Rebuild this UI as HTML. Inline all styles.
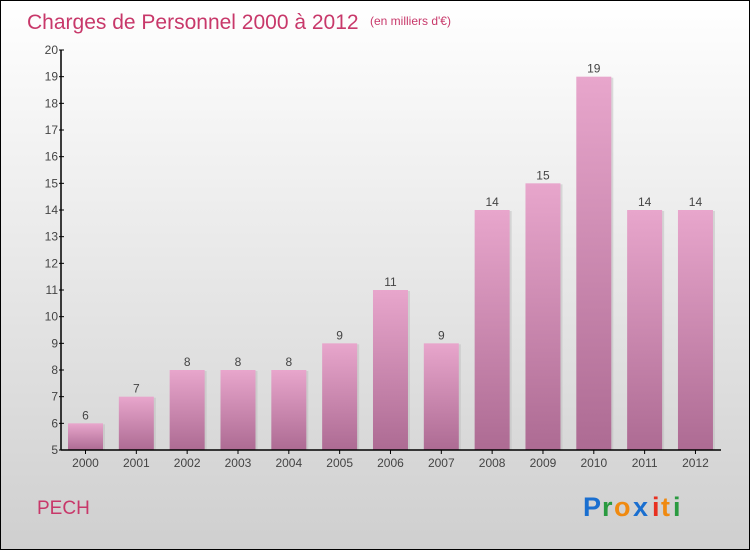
<!DOCTYPE html>
<html><head><meta charset="utf-8"><style>
body{margin:0}
#c{position:relative;width:748px;height:548px;border:1px solid #000;background:linear-gradient(#ffffff,#cfcfcf);font-family:"Liberation Sans",sans-serif;overflow:hidden}
</style></head><body>
<div id="c">
<svg width="748" height="548">
<defs>
<linearGradient id="bg" x1="0" y1="0" x2="0" y2="1"><stop offset="0" stop-color="#e8a6cc"/><stop offset="1" stop-color="#ad6b93"/></linearGradient>
</defs>
<text x="26" y="28" font-size="21" fill="#c8386a">Charges de Personnel 2000 à 2012</text>
<text x="369" y="24" font-size="12" fill="#c8386a">(en milliers d'€)</text>
<text x="36" y="513" font-size="19" fill="#c8386a">PECH</text>
<g font-size="27" font-weight="bold" font-family="'Liberation Sans',sans-serif">
<text x="582" y="515" fill="#1a6fd0">P</text><text x="601" y="515" fill="#2a9a40">r</text><text x="613" y="515" fill="#f08a10">o</text><text x="632" y="515" fill="#1a6fd0">x</text><text x="651" y="515" fill="#e83020">i</text><text x="660" y="515" fill="#f08a10">t</text><text x="672" y="515" fill="#2a9a40">i</text>
</g>
<g id="plot"></g>
</svg>
</div>
<script>
const years=["2000","2001","2002","2003","2004","2005","2006","2007","2008","2009","2010","2011","2012"];
const values=[6,7,8,8,8,9,11,9,14,15,19,14,14];
const yTicks=[5,6,7,8,9,10,11,12,13,14,15,16,17,18,19,20];
const ns="http://www.w3.org/2000/svg";
const g=document.getElementById('plot');
const y0=449,y1=49,vmin=5,vmax=20,x0=60,step=50.83,first=84.5,bw=35;
const Y=v=>y0-(v-vmin)/(vmax-vmin)*(y0-y1);
const X=i=>first+i*step;
function el(t,a){const e=document.createElementNS(ns,t);for(const k in a)e.setAttribute(k,a[k]);g.appendChild(e);return e;}
values.forEach((v,i)=>{
 const s=el('rect',{x:X(i)-bw/2+2,y:Y(v)+1,width:bw,height:y0-Y(v)-1,fill:'#bbb',opacity:0.5});
 
 
 const r=el('rect',{x:X(i)-bw/2,y:Y(v),width:bw,height:y0-Y(v),fill:'url(#bg)'});
 
 
 const t=el('text',{x:X(i),y:Y(v)-4,'font-size':12,'text-anchor':'middle',fill:'#444'});
 t.textContent=v;
 
 
 const l=el('text',{x:X(i),y:y0+17,'font-size':12,'text-anchor':'middle',fill:'#444'});
 l.textContent=years[i];
 
 
 const tk=el('line',{x1:X(i),x2:X(i),y1:y0,y2:y0+4,stroke:'#000'});
 
 
});
yTicks.forEach(v=>{
 const t=el('text',{x:x0-3,y:Y(v)+4,'font-size':12,'text-anchor':'end',fill:'#444'});
 t.textContent=v;
 
 
 const tk=el('line',{x1:x0-2,x2:x0+3,y1:Y(v),y2:Y(v),stroke:'#000'});
 
 
});
const ya=el('line',{x1:x0,x2:x0,y1:y1,y2:y0,stroke:'#000','stroke-width':1.5});


const xa=el('line',{x1:x0,x2:720,y1:y0,y2:y0,stroke:'#000','stroke-width':1.5});


</script>
</body></html>
